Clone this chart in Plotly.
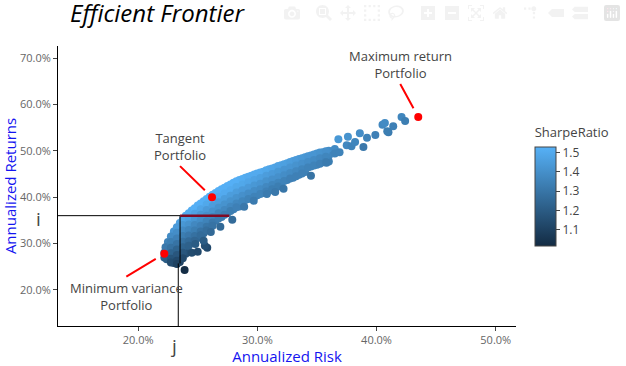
import plotly.graph_objects as go

risk_pct = [
 22.2,22.2,
 22.5,22.5,22.5,22.5,
 23,23,23,23,23,23,23,
 23.5,23.5,23.5,23.5,23.5,23.5,23.5,23.5,
 24,24,24,24,24,24,24,24,
 24.5,24.5,24.5,24.5,24.5,24.5,24.5,
 25,25,25,25,25,25,25,
 25.5,25.5,25.5,25.5,25.5,25.5,25.5,
 26,26,26,26,26,26,26,
 26.5,26.5,26.5,26.5,26.5,26.5,
 27,27,27,27,27,27,
 27.5,27.5,27.5,27.5,27.5,27.5,
 28,28,28,28,28,28,
 28.5,28.5,28.5,28.5,28.5,28.5,
 29,29,29,29,29,
 29.5,29.5,29.5,29.5,29.5,
 30,30,30,30,30,
 30.5,30.5,30.5,30.5,30.5,
 31,31,31,31,31,
 31.5,31.5,31.5,31.5,31.5,
 32,32,32,32,32,
 32.5,32.5,32.5,32.5,
 33,33,33,33,
 33.5,33.5,33.5,33.5,
 34,34,34,34,
 34.5,34.5,34.5,
 35,35,35,
 35.5,35.5,35.5,
 36,36,36,
 36.5,36.5,
 # in-between columns
 22.3,22.4,
 22.75,22.75,22.75,22.75,22.75,22.75,
 23.25,23.25,23.25,23.25,23.25,23.25,23.25,23.25,
 23.75,23.75,23.75,23.75,23.75,23.75,23.75,23.75,
 24.25,24.25,24.25,24.25,24.25,24.25,24.25,
 24.75,24.75,24.75,24.75,24.75,24.75,24.75,
 25.25,25.25,25.25,25.25,25.25,25.25,25.25,
 25.75,25.75,25.75,25.75,25.75,25.75,25.75,
 26.25,26.25,26.25,26.25,26.25,26.25,26.25,
 26.75,26.75,26.75,26.75,26.75,26.75,
 27.25,27.25,27.25,27.25,27.25,27.25,
 27.75,27.75,27.75,27.75,27.75,27.75,
 28.25,28.25,28.25,28.25,28.25,28.25,
 28.75,28.75,28.75,28.75,28.75,
 29.25,29.25,29.25,29.25,29.25,
 29.75,29.75,29.75,29.75,29.75,
 30.25,30.25,30.25,30.25,30.25,
 30.75,30.75,30.75,30.75,30.75,
 31.25,31.25,31.25,31.25,31.25,
 31.75,31.75,31.75,31.75,31.75,
 32.25,32.25,32.25,32.25,
 32.75,32.75,32.75,32.75,
 33.25,33.25,33.25,33.25,
 33.75,33.75,33.75,33.75,
 34.25,34.25,34.25,
 34.75,34.75,34.75,
 35.25,35.25,35.25,
 35.75,35.75,35.75,
 # scattered points below and beyond the band
 23.9,24.5,25.0,25.8,25.6,25.5,24.8,26.1,26.9,27.9,28.9,29.7,30.8,31.5,32.2,
 34.5,35.8,36.9,36.8,37.6,37.5,37.9,38.2,38.6,38.9,39.2,39.9,40.5,40.7,41.4,41.0,40.9,42.1,42.4,
]
return_pct = [
 28.0,27.0,
 30.3,29.1,27.9,26.7,
 32.6,31.4,30.2,29.0,27.8,26.6,25.8,
 34.4,33.2,32.0,30.8,29.6,28.4,27.2,26.0,
 36.0,34.8,33.6,32.4,31.2,30.0,28.8,27.8,
 37.1,35.9,34.7,33.5,32.3,31.1,30.2,
 38.2,37.0,35.8,34.6,33.4,32.2,31.2,
 39.1,37.9,36.7,35.5,34.3,33.1,32.2,
 40.1,38.9,37.7,36.5,35.3,34.1,33.2,
 40.9,39.7,38.5,37.3,36.1,34.9,
 41.7,40.5,39.3,38.1,36.9,35.7,
 42.4,41.2,40.0,38.8,37.6,36.6,
 43.1,41.9,40.7,39.5,38.3,37.4,
 43.7,42.5,41.3,40.1,38.9,38.0,
 44.2,43.0,41.8,40.6,39.4,
 44.6,43.4,42.2,41.0,39.9,
 45.1,43.9,42.7,41.5,40.4,
 45.5,44.3,43.1,41.9,40.9,
 46.0,44.8,43.6,42.4,41.4,
 46.4,45.2,44.0,42.8,42.0,
 46.9,45.7,44.5,43.3,42.6,
 47.3,46.1,44.9,43.7,
 47.8,46.6,45.4,44.2,
 48.2,47.0,45.8,44.8,
 48.6,47.4,46.2,45.4,
 49.0,47.8,46.6,
 49.4,48.2,47.0,
 49.7,48.5,47.5,
 50.0,48.9,47.7,
 50.4,49.4,
 # in-between columns
 29.2,26.6,
 31.5,30.3,29.1,27.9,26.7,25.9,
 33.5,32.3,31.1,29.9,28.7,27.5,26.3,25.6,
 35.2,34.0,32.8,31.6,30.4,29.2,28.0,26.8,
 36.5,35.3,34.1,32.9,31.7,30.5,29.5,
 37.6,36.4,35.2,34.0,32.8,31.6,30.6,
 38.6,37.4,36.2,35.0,33.8,32.6,31.8,
 39.6,38.4,37.2,36.0,34.8,33.6,32.8,
 40.5,39.3,38.1,36.9,35.7,34.5,33.8,
 41.3,40.1,38.9,37.7,36.5,35.4,
 42.0,40.8,39.6,38.4,37.2,36.2,
 42.7,41.5,40.3,39.1,37.9,37.0,
 43.4,42.2,41.0,39.8,38.6,37.8,
 43.9,42.7,41.5,40.3,39.1,
 44.4,43.2,42.0,40.8,39.6,
 44.9,43.7,42.5,41.3,40.1,
 45.3,44.1,42.9,41.7,40.7,
 45.8,44.6,43.4,42.2,41.2,
 46.2,45.0,43.8,42.6,41.7,
 46.7,45.5,44.3,43.1,42.3,
 47.1,45.9,44.7,43.5,
 47.6,46.4,45.2,44.0,
 48.0,46.8,45.6,44.5,
 48.4,47.2,46.0,45.1,
 48.8,47.6,46.4,
 49.2,48.0,46.8,
 49.6,48.4,47.2,
 49.9,48.7,47.6,
 # scattered points below and beyond the band
 24.3,28.0,28.2,29.1,29.5,30.6,29.9,32.5,33.6,35.1,37.9,39.2,40.7,41.1,41.8,
 44.6,47.4,49.7,52.5,53.0,51.2,51.0,51.9,53.8,50.8,52.8,53.4,55.6,56.0,55.3,54.0,54.2,57.3,56.4,
]
sharpe = [
 1.26,1.22,
 1.35,1.29,1.24,1.19,
 1.42,1.37,1.31,1.26,1.21,1.16,1.12,
 1.46,1.41,1.36,1.31,1.26,1.21,1.16,1.11,
 1.50,1.45,1.40,1.35,1.30,1.25,1.20,1.16,
 1.51,1.47,1.42,1.37,1.32,1.27,1.23,
 1.52,1.48,1.43,1.38,1.34,1.29,1.25,
 1.52,1.49,1.44,1.39,1.35,1.30,1.26,
 1.52,1.50,1.45,1.40,1.36,1.31,1.28,
 1.52,1.50,1.45,1.41,1.36,1.32,
 1.52,1.50,1.46,1.41,1.37,1.32,
 1.52,1.50,1.45,1.41,1.37,1.33,
 1.52,1.50,1.45,1.41,1.37,1.34,
 1.51,1.49,1.45,1.41,1.36,1.33,
 1.51,1.48,1.44,1.40,1.36,
 1.50,1.47,1.43,1.39,1.35,
 1.50,1.46,1.42,1.38,1.35,
 1.49,1.45,1.41,1.37,1.34,
 1.48,1.45,1.41,1.37,1.34,
 1.47,1.43,1.40,1.36,1.33,
 1.47,1.43,1.39,1.35,1.33,
 1.46,1.42,1.38,1.34,
 1.45,1.41,1.38,1.34,
 1.44,1.40,1.37,1.34,
 1.43,1.39,1.36,1.34,
 1.42,1.39,1.35,
 1.41,1.38,1.34,
 1.40,1.37,1.34,
 1.39,1.36,1.33,
 1.38,1.35,
 # in-between columns
 1.31,1.20,
 1.38,1.33,1.28,1.23,1.17,1.14,
 1.44,1.39,1.34,1.29,1.23,1.18,1.13,1.10,
 1.48,1.43,1.38,1.33,1.28,1.23,1.18,1.13,
 1.50,1.46,1.41,1.36,1.31,1.26,1.22,
 1.52,1.47,1.42,1.37,1.33,1.28,1.24,
 1.52,1.48,1.43,1.39,1.34,1.29,1.26,
 1.52,1.49,1.44,1.40,1.35,1.30,1.27,
 1.52,1.50,1.45,1.41,1.36,1.31,1.29,
 1.52,1.50,1.45,1.41,1.36,1.32,
 1.52,1.50,1.45,1.41,1.37,1.33,
 1.52,1.50,1.45,1.41,1.37,1.33,
 1.52,1.49,1.45,1.41,1.37,1.34,
 1.51,1.49,1.44,1.40,1.36,
 1.50,1.48,1.44,1.39,1.35,
 1.50,1.47,1.43,1.39,1.35,
 1.50,1.46,1.42,1.38,1.35,
 1.49,1.45,1.41,1.37,1.34,
 1.48,1.44,1.40,1.36,1.33,
 1.47,1.43,1.40,1.36,1.33,
 1.46,1.42,1.39,1.35,
 1.45,1.42,1.38,1.34,
 1.44,1.41,1.37,1.34,
 1.43,1.40,1.36,1.34,
 1.42,1.39,1.35,
 1.42,1.38,1.35,
 1.41,1.37,1.34,
 1.40,1.36,1.33,
 # scattered points below and beyond the band
 1.02,1.14,1.13,1.13,1.15,1.20,1.20,1.25,1.25,1.26,1.31,1.32,1.32,1.31,1.30,
 1.29,1.32,1.35,1.43,1.41,1.37,1.35,1.36,1.39,1.31,1.35,1.34,1.37,1.38,1.34,1.32,1.33,1.36,1.33,
]
special_risk = [22.2, 26.2, 43.5]
special_return = [27.8, 40.0, 57.3]
special_labels = ["Minimum variance<br>Portfolio", "Tangent<br>Portfolio", "Maximum return<br>Portfolio"]
x_ticks = [0.2, 0.3, 0.4, 0.5]
y_ticks = [0.2, 0.3, 0.4, 0.5, 0.6, 0.7]
i_level = 0.36
j_level = 0.2352
x_range = [0.1328, 0.517]
y_range = [0.122, 0.726]

font = "Open Sans, sans-serif"
fig = go.Figure()
fig.add_trace(go.Scatter(
    x=[v / 100 for v in risk_pct], y=[v / 100 for v in return_pct], mode="markers",
    marker=dict(size=8, color=sharpe, cmin=1.014, cmax=1.526,
                colorscale=[[0, "#132B43"], [1, "#56B1F7"]],
                colorbar=dict(title=dict(text="SharpeRatio", font=dict(size=13, color="#444")),
                              thickness=21, len=122, lenmode="pixels", x=1.042, xanchor="left",
                              y=0.72, yanchor="top", xpad=0, ypad=0, tickvals=[1.1, 1.2, 1.3, 1.4, 1.5],
                              ticktext=["1.1", "1.2", "1.3", "1.4", "1.5"],
                              tickfont=dict(size=12, color="#444"), ticks="outside", ticklen=4,
                              tickcolor="#444", outlinecolor="#444", outlinewidth=1)),
    showlegend=False))
fig.add_trace(go.Scatter(x=[v / 100 for v in special_risk], y=[v / 100 for v in special_return], mode="markers",
                         marker=dict(size=8, color="red"), showlegend=False))

ann_offsets = [(-38, 23, "top"), (-32, -31, "bottom"), (-18, -33, "bottom")]
for sx, sy, lab, (ax, ay, anchor) in zip(special_risk, special_return, special_labels, ann_offsets):
    fig.add_annotation(x=sx / 100, y=sy / 100, text=lab, ax=ax, ay=ay, showarrow=True, arrowhead=0,
                       arrowcolor="red", arrowwidth=2, standoff=10, xanchor="center", yanchor=anchor,
                       font=dict(size=13, color="#444", family=font))

fig.add_annotation(x=0.0, xref="paper", xshift=-24, y=i_level, text="i", showarrow=False,
                   yshift=-3, font=dict(size=19, color="#444", family=font))
fig.add_annotation(x=j_level, y=0.0, yref="paper", yshift=-35, xshift=-7, text="j", showarrow=False,
                   font=dict(size=19, color="#444", family=font))

fig.add_shape(type="line", x0=x_range[0], x1=j_level, y0=i_level, y1=i_level, line=dict(color="black", width=1))
fig.add_shape(type="line", x0=j_level, x1=j_level, y0=i_level, y1=0.257, line=dict(color="black", width=1))
fig.add_shape(type="line", x0=j_level - 0.0015, x1=j_level - 0.0015, y0=0.257, y1=y_range[0], line=dict(color="black", width=1))
fig.add_shape(type="line", x0=j_level, x1=0.2765, y0=i_level, y1=i_level, line=dict(color="#7F0A24", width=2.5))

axis_common = dict(showgrid=False, zeroline=False, showline=True, linecolor="black", linewidth=1,
                   ticks="outside", ticklen=4, tickcolor="#444", tickformat=".1%",
                   tickfont=dict(size=11, color="#666"))
fig.update_layout(
    width=626, height=366, template=None, paper_bgcolor="white", plot_bgcolor="white",
    font=dict(family=font, color="#444"),
    margin=dict(l=58, r=110, t=46, b=40),
    title=dict(text="<i>Efficient Frontier</i>", x=70 / 626, xanchor="left", y=0.964, yanchor="middle",
               font=dict(size=24, color="black", family=font)),
    xaxis=dict(range=x_range, tickvals=x_ticks, title=dict(text="Annualized Risk", standoff=4,
               font=dict(size=15, color="#1414F0")), **axis_common),
    yaxis=dict(range=y_range, tickvals=y_ticks, title=dict(text="Annualized Returns", standoff=3,
               font=dict(size=15, color="#1414F0")), **axis_common),
    modebar=dict(color="rgba(68,68,68,0.07)", activecolor="rgba(68,68,68,0.07)", bgcolor="rgba(255,255,255,0)"),
)
mode_buttons = [["toImage"],
                ["zoom2d", "pan2d", "select2d", "lasso2d"],
                ["zoomIn2d", "zoomOut2d", "autoScale2d", "resetScale2d"],
                ["toggleSpikelines", "hoverClosestCartesian", "hoverCompareCartesian"]]
fig.write_html("out.html", config={"displayModeBar": True, "responsive": False, "modeBarButtons": mode_buttons},
               post_script="document.body.style.margin='0';"
                           "var s=document.createElement('style');"
                           "s.textContent='.modebar-btn--logo{opacity:.1 !important}';"
                           "document.head.appendChild(s);")
